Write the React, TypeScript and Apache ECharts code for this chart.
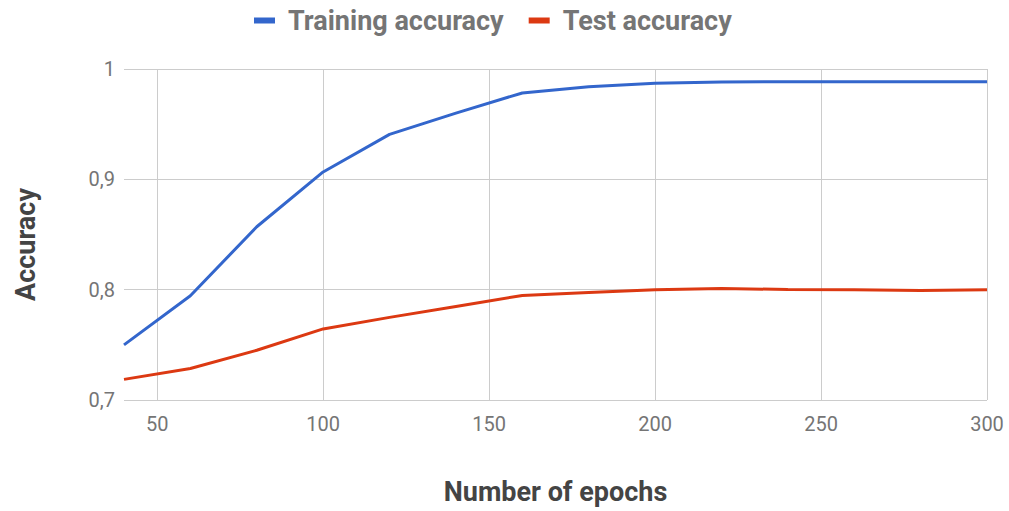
import React, { useEffect, useRef } from "react";
import * as echarts from "echarts";

const epochs = [40, 60, 80, 100, 120, 140, 160, 180, 200, 220, 240, 260, 280, 300];
const trainingAccuracy = [0.75, 0.7945, 0.857, 0.9067, 0.9407, 0.96, 0.9783, 0.984, 0.987, 0.9883, 0.9884, 0.9884, 0.9884, 0.9884];
const testAccuracy = [0.7187, 0.7286, 0.7451, 0.7644, 0.7749, 0.7848, 0.7948, 0.7975, 0.7999, 0.801, 0.8002, 0.8, 0.7993, 0.8];
const xTicks = [50, 100, 150, 200, 250, 300];
const seriesNames = ["Training accuracy", "Test accuracy"];
const colors = ["#3366cc", "#dc3912"];

export default function App() {
  const ref = useRef<HTMLDivElement>(null);
  useEffect(() => {
    if (!ref.current) return;
    const chart = echarts.init(ref.current, null, { renderer: "svg" });
    const font = "Roboto";
    chart.setOption({
      animation: false,
      color: colors,
      textStyle: { fontFamily: font },
      legend: {
        top: 2,
        left: 249,
        icon: "rect",
        itemWidth: 21,
        itemHeight: 6,
        itemGap: 25,
        textStyle: {
          fontSize: 27,
          fontWeight: "bold",
          color: "#757575",
          fontFamily: font,
          padding: [0, 0, 0, 8],
        },
        data: seriesNames,
      },
      grid: { left: 124, right: 22, top: 69, bottom: 111, containLabel: false },
      xAxis: {
        type: "value",
        min: 40,
        max: 300,
        name: "Number of epochs",
        nameLocation: "middle",
        nameGap: 78,
        nameTextStyle: { fontSize: 27, fontWeight: "bold", color: "#444", fontFamily: font },
        axisLine: { show: false },
        axisTick: { show: false, customValues: xTicks },
        axisLabel: { customValues: xTicks, fontSize: 20, color: "#757575", margin: 14 },
        splitLine: { show: true, lineStyle: { color: "#cccccc", width: 1 } },
      },
      yAxis: {
        type: "value",
        min: 0.7,
        max: 1,
        interval: 0.1,
        name: "Accuracy",
        nameLocation: "middle",
        nameGap: 85,
        nameRotate: 90,
        nameTextStyle: {
          fontSize: 27,
          fontWeight: "bold",
          color: "#444",
          fontFamily: font,
          padding: [0, 20, 0, 0],
        },
        axisLine: { show: false },
        axisTick: { show: false },
        axisLabel: {
          fontSize: 20,
          color: "#757575",
          margin: 9,
          formatter: (v: number) => String(+v.toFixed(1)).replace(".", ","),
        },
        splitLine: { show: true, lineStyle: { color: "#cccccc", width: 1 } },
      },
      series: [
        {
          name: seriesNames[0],
          type: "line",
          showSymbol: false,
          symbol: "none",
          lineStyle: { width: 3 },
          data: epochs.map((e, i) => [e, trainingAccuracy[i]]),
        },
        {
          name: seriesNames[1],
          type: "line",
          showSymbol: false,
          symbol: "none",
          lineStyle: { width: 3 },
          data: epochs.map((e, i) => [e, testAccuracy[i]]),
        },
      ],
    });
    return () => chart.dispose();
  }, []);
  return (
    <div
      ref={ref}
      style={{ position: "fixed", left: 0, top: 0, width: 1009, height: 511, background: "#fff" }}
    />
  );
}
